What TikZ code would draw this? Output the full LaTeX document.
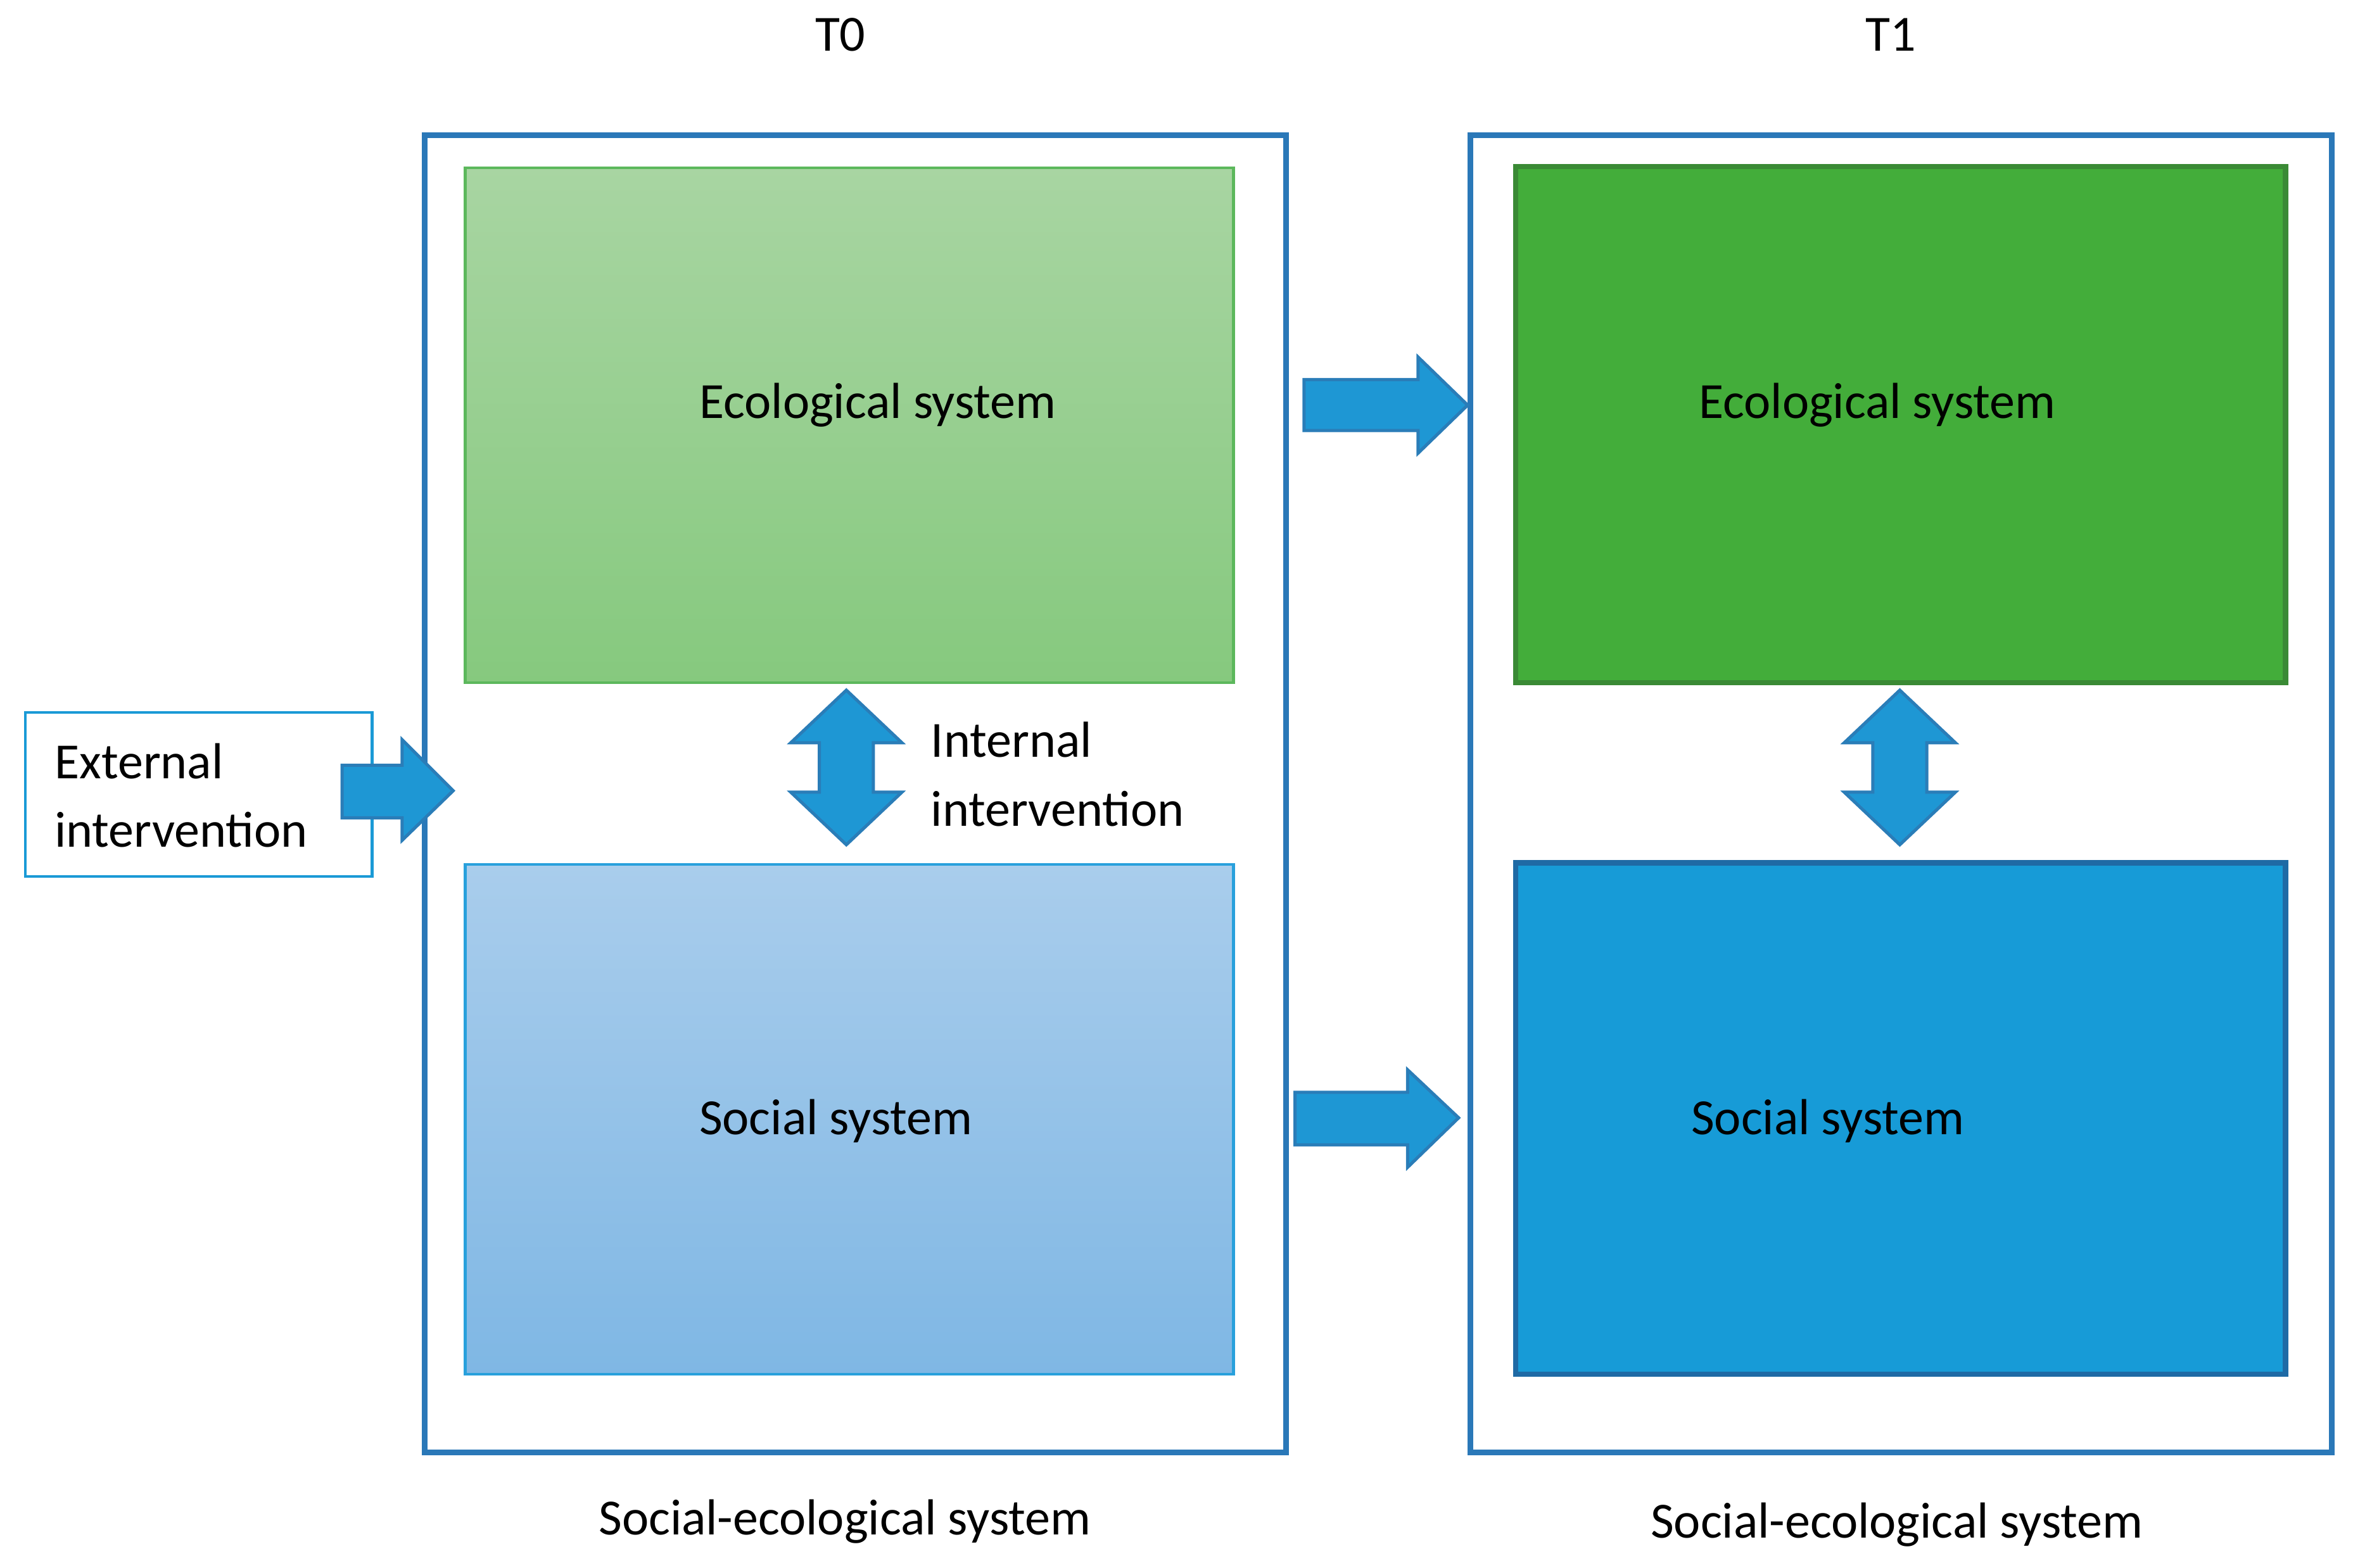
\documentclass[tikz,border=0pt]{standalone}
\usepackage{fontspec}
\setmainfont{Carlito}
\begin{document}
\begin{tikzpicture}[x=0.01cm,y=-0.01cm,
  outer/.style={draw=blue!60!black!70!cyan,line width=1.1pt},
  barrow/.style={fill=arrowblue,draw=arrowedge,line width=0.6pt},
  lbl/.style={font=\fontsize{9.6}{13}\selectfont}]
\definecolor{arrowblue}{HTML}{1E97D4}
\definecolor{arrowedge}{HTML}{2A7DB8}
\definecolor{outerc}{HTML}{2A78B8}
\useasboundingbox (0,0) rectangle (1568,1045);
% outer boxes
\draw[draw=outerc,line width=1.1pt] (283,90) rectangle (857,968);
\draw[draw=outerc,line width=1.1pt] (980,90) rectangle (1554,968);
% inner boxes
\shade[top color={rgb,255:red,168;green,213;blue,162},bottom color={rgb,255:red,134;green,201;blue,126}] (310,112) rectangle (822,455);
\draw[draw={rgb,255:red,92;green,184;blue,92},line width=0.5pt] (310,112) rectangle (822,455);
\shade[top color={rgb,255:red,169;green,205;blue,236},bottom color={rgb,255:red,127;green,183;blue,228}] (310,576) rectangle (822,916);
\draw[draw={rgb,255:red,40;green,160;blue,220},line width=0.5pt] (310,576) rectangle (822,916);
\draw[fill={rgb,255:red,67;green,173;blue,58},draw={rgb,255:red,58;green,138;blue,53},line width=1pt] (1010,111) rectangle (1523,455);
\draw[fill={rgb,255:red,23;green,155;blue,215},draw={rgb,255:red,31;green,106;blue,165},line width=1pt] (1010,575) rectangle (1523,916);
\draw[draw={rgb,255:red,26;green,154;blue,214},line width=0.5pt] (17,475) rectangle (248,584);
% arrows
\draw[barrow] (869,253)--(945,253)--(945,238)--(978,270)--(945,302)--(945,287)--(869,287)--cycle;
\draw[barrow] (863,728)--(938,728)--(938,713)--(972,745)--(938,778)--(938,763)--(863,763)--cycle;
\draw[barrow] (228,510)--(268,510)--(268,493)--(302,527)--(268,560)--(268,545)--(228,545)--cycle;
\foreach \cx in {564,1266}{
\draw[barrow] (\cx,460)--(\cx+37,495)--(\cx+18,495)--(\cx+18,528)--(\cx+37,528)--(\cx,563)--(\cx-37,528)--(\cx-18,528)--(\cx-18,495)--(\cx-37,495)--cycle;}
% texts
\node[lbl] (t0) at (560,23) {T0};
\node[lbl] (t1) at (1260,23) {T1};
\node[lbl] (e0) at (585,270) {Ecological system};
\node[lbl] (s0) at (557,747) {Social system};
\node[lbl] (e1) at (1251,270) {Ecological system};
\node[lbl] (s1) at (1218,747) {Social system};
\node[lbl,anchor=west,align=left] (ii) at (608,516) {Internal\\intervention};
\node[lbl,anchor=west,align=left] (ei) at (24,530) {External\\intervention};
\node[lbl] (c0) at (563,1014) {Social-ecological system};
\node[lbl] (c1) at (1264,1016) {Social-ecological system};
\end{tikzpicture}
\end{document}
